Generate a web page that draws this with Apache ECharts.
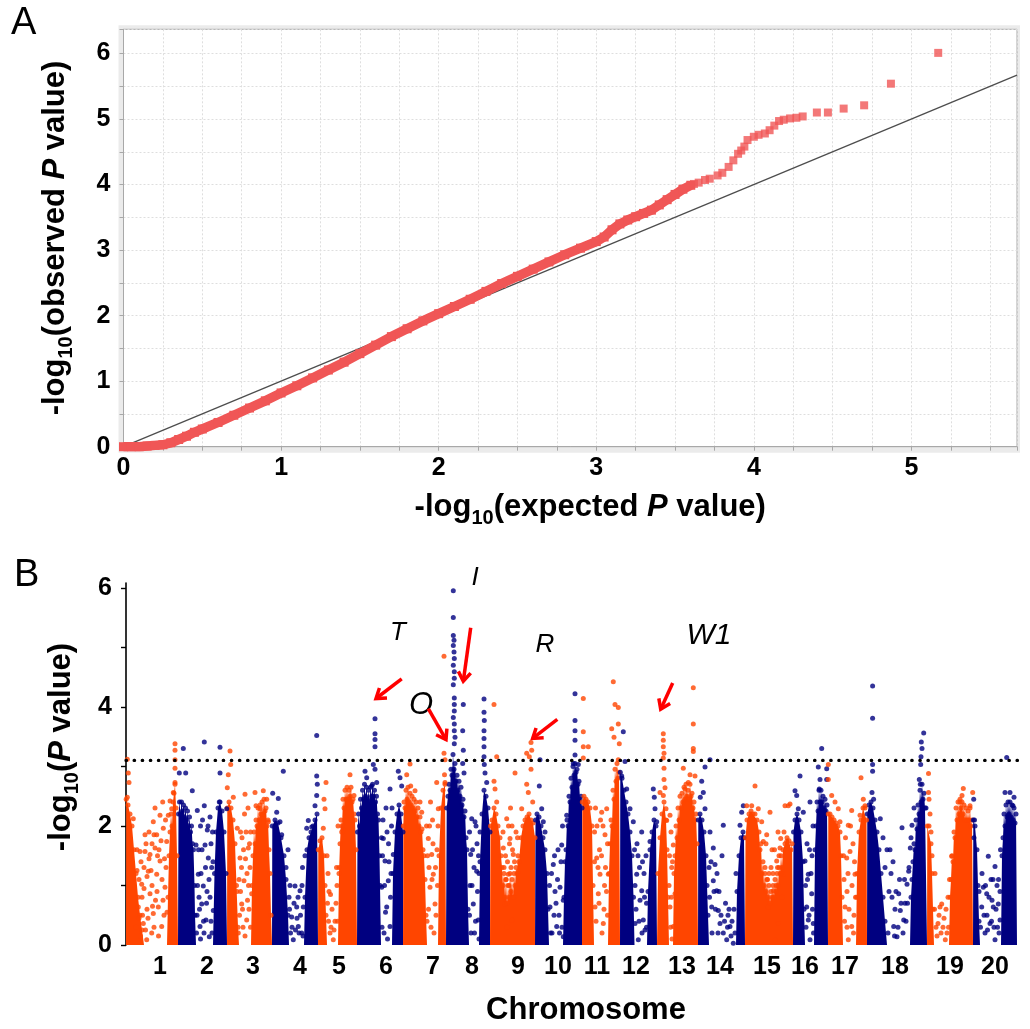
<!DOCTYPE html>
<html><head><meta charset="utf-8">
<script src="https://cdn.jsdelivr.net/npm/echarts@6/dist/echarts.min.js"></script>
<style>html,body{margin:0;padding:0;background:#fff}#c{width:1030px;height:1029px}</style>
</head><body><div id="c"></div>
<script>
// ================= Panel A : QQ plot =================
const qqBody = [[0,0],[0.05,0],[0.1,0],[0.15,0.01],[0.2,0.02],[0.25,0.03],[0.3,0.06],[0.35,0.11],[0.4,0.16],[0.45,0.22],[0.5,0.27],[0.6,0.37],[0.7,0.48],[0.8,0.59],[0.9,0.70],[1.0,0.82],[1.1,0.93],[1.2,1.05],[1.3,1.17],[1.4,1.29],[1.5,1.42],[1.6,1.55],[1.7,1.68],[1.8,1.80],[1.9,1.92],[2.0,2.03],[2.1,2.14],[2.2,2.25],[2.3,2.37],[2.4,2.49],[2.5,2.60],[2.6,2.71],[2.7,2.82],[2.8,2.93],[2.9,3.03],[3.0,3.13],[3.05,3.2],[3.1,3.31],[3.15,3.40],[3.2,3.46],[3.25,3.51],[3.3,3.56],[3.35,3.61],[3.4,3.69],[3.45,3.77],[3.5,3.85],[3.55,3.93],[3.6,3.99]];
const qqTail = [[3.62,4.01],[3.65,4.03],[3.69,4.07],[3.72,4.09],[3.77,4.14],[3.80,4.18],[3.84,4.27],[3.87,4.37],[3.90,4.47],[3.92,4.52],[3.94,4.58],[3.96,4.68],[4.00,4.73],[4.03,4.76],[4.07,4.78],[4.10,4.83],[4.13,4.90],[4.16,4.97],[4.19,4.99],[4.23,5.01],[4.27,5.02],[4.31,5.04],[4.40,5.10],[4.47,5.10],[4.57,5.16],[4.70,5.21],[4.87,5.54],[5.17,6.01]];
const qqDiagonal = [[0,0],[5.67,5.67]];
const qqXMax = 5.67, qqYMax = 6.37;

// ================= Panel B : Manhattan plot =================
const chrLengths = [52,49,45,46,39,46,43,44,45,47,38,37,41,47,48,35,39,60,46,44];
const chrLabelPos = [34,81,127,174,213,260,307,346,392,432,471,510,556,594,641,679,719,769,824,869];
const threshold = 3.1;

// dense clouds: [position within chromosome, upper edge of -log10 P]
const tower1 = [[0,0],[0.2,2.45],[2,2.35],[4,2.2],[6,2.0],[8,1.6],[10,1.2],[12,0.8],[14,0.5],[16,0.25],[18,0],[41,0],[42,0.8],[43,1.5],[44,1.9],[45,2.2],[46,2.0],[47,2.4],[48,2.55],[49,2.7],[50,2.3],[51,1.5],[52,0]];
const tower2 = [[0,0],[0.5,2.2],[1.5,2.4],[2.5,2.2],[3.5,2.4],[4.5,2.25],[5.5,2.35],[6.5,2.15],[7.5,2.3],[8.5,2.1],[9.5,2.25],[10.5,2.0],[11.5,2.15],[12.5,1.9],[13.5,2.0],[14.5,1.7],[15.5,1.6],[16.5,1.0],[17,0.5],[18,0],[35,0],[36.5,1.2],[38,1.9],[40,2.3],[42,2.4],[44,2.25],[46,1.9],[48,1.2],[49,0]];
const tower3 = [[0,0],[0.3,2.3],[2,2.4],[4,2.3],[6,2.1],[8,1.7],[9.5,1.0],[11,0.3],[12,0],[24,0],[25,1.0],[26,1.5],[27,1.9],[28,1.7],[29,2.1],[30,2.0],[31,2.3],[32,2.1],[33,2.35],[34,2.2],[35,2.4],[36,2.2],[37,2.45],[38,2.25],[39,2.3],[40,2.0],[41,2.1],[42,1.6],[43,1.2],[44,0.5],[45,0]];
const tower4 = [[0,0],[0.3,2.0],[3,2.1],[6,2.05],[9,1.8],[12,1.5],[14,1.1],[16,0.5],[17,0],[32,0],[33,0.8],[35,1.6],[37,1.8],[39,1.9],[41,2.0],[43,2.1],[45,2.2],[46,0]];
const tower5 = [[0,0],[0.3,1.6],[2,1.75],[4,1.8],[6,1.5],[7,1.0],[8,0.5],[9,0],[20,0],[21,1.2],[22,1.7],[23,2.1],[24,2.0],[25,2.45],[26,2.3],[27,2.6],[28,2.45],[29,2.65],[30,2.45],[31,2.6],[32,2.5],[33,2.65],[34,2.4],[35,2.45],[36,2.2],[37,2.1],[38,1.6],[39,0]];
const tower6 = [[0,0],[0.5,1.9],[1.5,2.2],[2.5,2.0],[3.5,2.45],[4.5,2.3],[5.5,2.6],[6.5,2.45],[7.5,2.7],[8.5,2.5],[9.5,2.65],[10.5,2.45],[11.5,2.6],[12.5,2.4],[13.5,2.65],[14.5,2.5],[15.5,2.7],[16.5,2.5],[17.5,2.6],[18.5,2.4],[19.5,2.5],[20.5,2.2],[21.5,2.1],[22.5,1.5],[23,1.0],[24,0],[35,0],[36,1.2],[38,1.9],[40,2.2],[42,2.35],[44,2.2],[46,1.9],[46,0]];
const tower7 = [[0,0],[0.3,2.0],[1,2.4],[2,2.3],[3,2.6],[4,2.45],[5,2.65],[6,2.4],[7,2.55],[8,2.35],[9,2.5],[10,2.3],[11,2.45],[12,2.25],[13,2.4],[14,2.15],[15,2.3],[16,2.0],[17,2.15],[18,1.9],[19,1.95],[20,1.6],[21,1.5],[22,1.1],[23,0.5],[24,0],[35,0],[36,1.5],[38,2.3],[40,2.6],[42,2.7],[43,0]];
const tower8 = [[0,0],[0.7,2.3],[2,2.5],[3,2.7],[4,2.6],[5,2.95],[6,2.85],[7,3.2],[8,2.95],[9,3.05],[10,2.75],[11,2.85],[12,2.6],[13,2.75],[14,2.5],[15,2.65],[16,2.35],[17,2.45],[18,2.15],[19,2.25],[20,1.8],[21,1.6],[22,0.6],[23,0],[33,0],[34,1.4],[36,2.2],[38,2.6],[40,2.5],[42,2.3],[44,1.9],[44,0]];
const tower9 = [[0,0],[0.5,2.0],[2,2.1],[4,2.3],[6,2.2],[8,2.0],[10,1.8],[11,1.5],[12,1.3],[13,1.0],[14,1.2],[15,0.8],[16,1.1],[17,0.7],[18,1.0],[19,0.8],[20,1.2],[21,0.9],[22,1.1],[23,0.8],[24,1.2],[25,1.0],[26,1.3],[27,1.2],[28,1.5],[29,1.4],[31,1.8],[33,2.0],[35,2.1],[37,2.15],[39,2.2],[41,2.1],[43,2.05],[45,1.8],[45,0]];
const tower10 = [[0,0],[0.5,2.1],[2,2.2],[4,2.15],[6,2.0],[8,1.8],[10,1.6],[12,1.2],[13,0.6],[14,0],[28,0],[29,0.8],[30,1.4],[31,1.6],[32,2.1],[33,2.0],[34,2.5],[35,2.4],[36,2.8],[37,2.65],[38,3.0],[39,2.85],[40,3.05],[41,2.9],[42,2.95],[43,2.7],[44,2.75],[45,2.45],[46,2.5],[47,2.3],[47,0]];
const tower11 = [[0,0],[0.3,2.4],[2,2.5],[4,2.45],[6,2.4],[8,2.3],[10,2.0],[11,1.0],[12,0],[26,0],[27,1.2],[28,1.7],[29,2.1],[30,2.0],[31,2.6],[32,2.45],[33,2.95],[34,2.75],[35,3.05],[36,2.8],[37,2.9],[38,0]];
const tower12 = [[0,0],[0.3,2.9],[2,2.8],[4,2.6],[6,2.4],[8,2.2],[10,1.9],[12,1.5],[13.5,0.8],[14.5,0],[27,0],[28,0.9],[30,1.6],[32,1.9],[34,2.1],[36,2.0],[37,0]];
const tower13 = [[0,0],[1,1.2],[3,1.8],[5,2.2],[7,2.4],[9,2.1],[10,1.6],[11,0.8],[12,0],[16,0],[17,1.2],[18,1.5],[19,2.0],[20,1.8],[21,2.3],[22,2.1],[23,2.5],[24,2.3],[25,2.55],[26,2.4],[27,2.65],[28,2.45],[29,2.7],[30,2.5],[31,2.6],[32,2.45],[33,2.7],[34,2.5],[35,2.55],[36,2.3],[37,2.4],[38,2.1],[39,2.2],[40,1.7],[41,0]];
const tower14 = [[0,0],[0.3,2.1],[2,2.2],[4,2.1],[6,1.9],[8,1.5],[9,1.0],[10,0.5],[11,0],[38,0],[39,0.9],[41,1.5],[43,1.8],[45,1.9],[46,1.8],[47,0]];
const tower15 = [[0,0],[0.5,1.8],[2,2.1],[4,2.2],[6,2.25],[8,2.2],[10,2.2],[12,2.1],[14,1.9],[15,1.6],[16,1.7],[17,1.2],[18,1.4],[19,1.0],[20,1.2],[21,0.9],[22,1.1],[23,0.8],[24,1.0],[25,0.7],[26,0.9],[27,0.8],[28,1.0],[29,0.8],[30,1.1],[31,0.9],[32,1.2],[33,1.0],[34,1.3],[35,1.2],[36,1.5],[37,1.3],[38,1.6],[40,1.7],[42,1.8],[44,1.75],[46,1.6],[47,1.7],[48,0]];
const tower16 = [[0,0],[0.5,1.9],[2,2.1],[4,2.2],[6,2.1],[8,1.9],[10,1.4],[11,0.6],[12,0],[21,0],[22,1.6],[23,2.0],[24,2.4],[25,2.25],[26,2.6],[27,2.4],[28,2.6],[29,2.4],[30,2.5],[31,2.3],[32,2.45],[33,2.25],[34,2.35],[35,0]];
const tower17 = [[0,0],[0.3,2.2],[2,2.2],[4,2.15],[6,2.1],[8,2.05],[10,2.0],[12,1.9],[13,1.5],[14,0.8],[15,0],[28,0],[29,1.2],[31,1.9],[33,2.1],[35,2.3],[37,2.3],[38.5,2.1],[39,0]];
const tower18 = [[0,0],[0.3,2.2],[2,2.35],[4,2.4],[6,2.3],[8,2.1],[10,1.9],[12,1.6],[14,1.2],[16,0.8],[18,0.4],[20,0],[43,0],[44,0.8],[45,1.1],[46,1.4],[47,1.7],[48,1.6],[49,2.1],[50,1.95],[51,2.35],[52,2.2],[53,2.6],[54,2.4],[55,2.7],[56,2.45],[57,2.55],[58,2.3],[59,2.3],[60,0]];
const tower19 = [[0,0],[0.3,2.0],[2,2.0],[4,1.7],[5,1.2],[6,0.6],[7,0],[22,0],[23,0.8],[24,1.1],[25,1.5],[26,1.4],[27,1.9],[28,1.8],[29,2.3],[30,2.1],[31,2.4],[32,2.2],[33,2.45],[34,2.3],[35,2.4],[36,2.2],[37,2.35],[38,2.1],[39,2.3],[40,2.1],[41,2.25],[42,2.1],[43,2.3],[44,2.0],[45,2.1],[46,0]];
const tower20 = [[0,0],[0.3,2.1],[2,2.0],[4,1.6],[5,1.0],[6,0.4],[7,0],[28,0],[29,1.5],[30,1.8],[31,2.2],[32,2.0],[33,2.35],[34,2.15],[35,2.4],[36,2.2],[37,2.4],[38,2.15],[39,2.35],[40,2.1],[41,2.3],[42,2.05],[43,2.2],[44,0]];

// individual SNPs: [position within chromosome, -log10 P]
const dots1 = [[1.3,3.12],[2.3,2.89],[3,2.73],[1.3,2.48],[7.3,2.12],[19,1.85],[14,1.57],[19,1.57],[27.3,2.07],[34,2.18],[36.7,2.4],[44,2.42],[49,3.38],[49,3.27],[49,3.11],[49,2.97],[49,2.73],[47.3,2.56],[45.7,2.29],[12.3,0.64],[17.3,0.36],[22.3,1.24],[24,0.86],[25.7,0.2],[29,1.63],[30.7,1.19],[32.3,0.64],[34,1.41],[37.3,1.96],[39,0.97],[40.7,1.74],[42.3,2.18],[20.7,0.09],[15.7,1.02],[27.3,0.53],[30.7,1.85],[35.7,0.31],[24,1.52],[13,1.1],[16,0.8],[18,1.3],[21,0.6],[23,1.9],[26,1.0],[28,0.3],[31,0.9],[33,1.6],[36,1.1],[38,0.5],[40,1.3],[10,0.3],[11,1.6],[29,2.3],[26,1.7],[21,1.15],[14.5,0.15],[15,1.4],[16.5,0.5],[18,0.95],[19.5,0.25],[20,1.7],[22,0.45],[23,1.45],[25,1.25],[26.5,0.65],[28,1.85],[29.5,0.75],[31.5,1.5],[32.5,0.15],[35,1.75],[37,0.75],[38.5,1.45],[39.5,2.1],[41,0.55],[11,1.25],[13,0.45]];
const dots2 = [[5.3,3.30],[1.3,2.89],[7.7,2.89],[14.3,2.59],[19.3,2.26],[26.3,3.41],[26.3,2.34],[32,2.15],[29.3,1.93],[27,1.68],[30.3,1.46],[25.3,0.99],[33.7,1.30],[23.7,0.69],[28,0.42],[35.3,0.58],[31.3,0.14],[22,0.31],[42,3.32],[42,2.89],[41.3,2.40],[48.7,2.29],[18,1.68],[20.3,1.19],[24,1.6],[21,0.8],[26,0.2],[29,0.9],[33,0.4],[19,0.5],[22.5,2.0],[34.5,1.9],[31,1.1],[18.5,0.2],[19.5,1.0],[20.5,1.6],[21.5,0.6],[23,1.2],[24.5,2.1],[25.5,0.4],[27.5,1.3],[28.5,0.7],[30,2.0],[32,0.8],[33,1.7],[34,0.2],[35,1.4],[22.5,0.1]];
const dots3 = [[3,3.26],[3.7,3.03],[1.3,2.86],[0.3,2.64],[6.3,2.48],[10.3,1.96],[18,2.53],[19,1.90],[21.3,1.63],[13,1.46],[17,1.08],[23,1.30],[14.7,0.69],[19.7,0.42],[24.7,0.86],[11.3,0.2],[28,2.56],[36.3,2.59],[33,2.29],[39.7,2.45],[41.3,2.07],[29,2.34],[12,1.1],[15,1.8],[16,0.3],[20,1.2],[22,0.6],[13.5,0.9],[17.5,2.2],[21,2.3],[10,0.9],[23.5,1.9],[12.5,0.5],[13.5,1.9],[14.5,1.3],[15.5,0.6],[16.5,1.6],[18,0.15],[18.5,1.45],[20.5,0.75],[21.5,1.0],[22.5,1.7],[23.5,0.3]];
const dots4 = [[0.7,2.55],[6.3,2.46],[4.7,2.23],[11.3,2.92],[8,2.07],[9.7,1.85],[23,0.99],[28,0.91],[24.7,0.64],[19.7,0.47],[29.7,0.2],[21.3,0.09],[26.3,0.31],[31.3,0.64],[44.7,3.52],[44.7,2.84],[45.3,2.70],[44.7,2.51],[43,2.34],[36.3,2.09],[39.7,1.98],[34.7,1.96],[14,1.3],[17,0.8],[18.5,0.2],[16,1.6],[30.5,1.3],[33,1.5],[27,0.2],[17.5,0.6],[18,1.0],[20,0.3],[22,0.7],[23.5,0.25],[25,0.45],[26,0.8],[28.5,0.5],[30,1.0],[31,0.15]];
const dots5 = [[8,2.73],[6,2.45],[7,2.29],[5.3,1.96],[12,0.2],[15.3,0.09],[23.7,1.9],[32,2.86],[36,2.51],[25,1.93],[10,1.2],[14,0.6],[17,0.4],[19,1.0],[11,0.9],[9,1.5],[13,0.3],[18,0.7],[21,1.3],[20,2.0],[9.5,0.7],[10.5,0.4],[12.5,0.85],[16,0.25],[18.5,1.3],[19.5,0.4]];
const dots6 = [[18,3.80],[18,3.55],[18,3.45],[18,3.33],[16.3,3.03],[18,2.95],[8,2.92],[9.7,2.81],[14.7,2.67],[19.7,2.73],[26.3,1.79],[28,1.41],[24.7,0.97],[29.7,0.64],[33,0.31],[31.3,1.08],[33,2.62],[36.3,1.52],[41.3,2.92],[43,2.81],[44.7,2.67],[27,0.2],[30,1.9],[25.5,1.5],[32,1.4],[34.5,2.0],[29,2.3],[24.5,1.8],[25,0.3],[26,2.1],[27.5,1.0],[28.5,0.55],[30.5,0.1],[31.5,1.7],[33.5,0.8],[34,1.2],[35,2.3]];
const dots7 = [[7,3.04],[3.7,2.86],[7.7,2.67],[12,2.59],[17,2.40],[18.7,2.23],[25.3,1.79],[28.7,1.52],[27,0.97],[32,0.69],[30.3,1.19],[33.7,2.73],[35.3,2.29],[41,3.22],[42,3.11],[41.5,2.86],[42,2.73],[41,4.85],[24,0.4],[26,1.3],[29.5,2.1],[31,0.2],[34,1.6],[27.5,2.4],[23.5,2.0],[24.5,1.5],[25.5,0.6],[26.5,2.0],[28,0.3],[29,1.1],[30,1.7],[32.5,1.3],[33,0.5],[34.5,1.0],[35,2.0]];
const dots8 = [[7.3,5.95],[7.3,5.50],[7.3,5.20],[8,5.12],[7.3,5.03],[8,4.92],[8.3,4.81],[7.3,4.70],[8.3,4.59],[8.3,4.48],[7.3,4.37],[8.3,4.15],[8.3,4.04],[8.3,3.93],[7.3,3.82],[8.3,3.71],[8.3,3.60],[9,3.49],[8.3,3.38],[17.3,4.04],[16.7,3.60],[17.3,3.27],[16.7,3.05],[18,2.89],[25.7,2.12],[29,2.07],[30.7,1.24],[27.3,0.69],[32.3,0.42],[24.7,1.52],[34,1.90],[38,4.13],[38,3.91],[38.3,3.77],[38,3.60],[38,3.47],[38,3.33],[38,3.16],[38.3,3.03],[39,2.89],[40.7,2.73],[26,1.0],[28.5,0.2],[31,1.7],[23.5,0.5],[33,1.2],[23.5,1.9],[24,1.0],[25,0.2],[26.5,1.6],[28,1.3],[29.5,0.4],[30,2.0],[31.5,0.9],[32.5,1.5],[33,0.1]];
const dots9 = [[4,4.04],[6.7,3.16],[4,2.75],[5,2.62],[6.7,2.40],[16.7,2.12],[20,1.79],[13.3,1.63],[25,2.89],[23.3,1.52],[18.3,1.19],[15,0.69],[21.7,0.42],[26.7,0.97],[28.3,1.24],[41,3.40],[41.7,3.27],[36.7,3.22],[39.3,3.16],[41,2.95],[36.7,2.70],[38.3,2.56],[42.7,2.40],[31.7,2.29],[17,0.3],[19,1.0],[22,2.0],[24,0.8],[14,1.3],[27.5,1.8],[20.5,2.3],[13,1.9],[15.5,1.5],[17.5,1.4],[19.5,1.7],[21,1.3],[22.5,1.6],[24.5,1.4],[26,1.9],[18.5,2.0],[16,1.1]];
const dots10 = [[5,3.11],[4.3,2.67],[6.7,2.29],[8.3,2.07],[10,1.90],[40,4.22],[40,3.77],[40,3.60],[40,3.44],[40,3.19],[38.3,3.05],[43.3,3.03],[26.7,1.68],[31.7,2.18],[28.3,0.75],[18.3,1.35],[25,0.97],[21.7,0.31],[15,0.64],[28.3,0.14],[20,0.9],[23,1.6],[17,0.2],[24,0.5],[14.5,1.0],[15.5,0.2],[16.5,1.2],[19,0.5],[19.5,1.5],[21,0.7],[22.5,1.1],[24.5,0.2],[26,1.4],[27,0.3],[27.5,2.0]];
const dots11 = [[1.3,4.14],[1.3,3.58],[1.3,3.33],[6.3,3.33],[1.3,3.14],[19.7,2.23],[24.7,2.29],[14.7,1.46],[23,1.85],[18,1.19],[13,0.64],[21.3,0.36],[16.3,0.86],[26.3,1.19],[31.3,4.42],[33,4.04],[36.3,3.99],[29.7,3.63],[32,3.49],[36.3,3.71],[37.3,3.38],[36.3,3.11],[15,2.0],[20,0.2],[17.5,1.6],[22.5,1.0],[12.5,1.9],[25.5,0.5],[12.5,1.4],[13.5,2.3],[14,0.4],[16,1.3],[17,0.7],[18.5,2.1],[19.5,1.5],[21,2.0],[22,0.6],[23.5,1.3],[24.5,0.9],[25.5,1.7]];
const dots12 = [[3.3,3.58],[5,3.08],[1.7,2.84],[6.7,2.62],[10,2.29],[13.3,2.07],[21.7,1.90],[16.7,1.19],[20,0.75],[15,0.36],[23.3,0.42],[18.3,0.09],[25,0.25],[21.7,0.91],[33.3,2.62],[34.3,2.48],[35,2.29],[36.7,2.07],[30,1.74],[18,1.5],[24,1.2],[26.5,0.7],[14.5,1.6],[15,1.0],[16,0.6],[17,1.7],[19,0.4],[19.5,1.3],[22,0.2],[22.5,1.4],[24.5,0.8],[26,1.5],[26.5,0.3]];
const dots13 = [[6.3,3.55],[6.3,3.44],[6.3,3.33],[7,3.22],[6.3,3.14],[7,2.97],[7,2.78],[8,2.64],[6.3,2.51],[3,2.56],[9,2.29],[9.7,2.09],[13,2.18],[16.3,1.68],[14.7,1.30],[18,0.86],[13,0.64],[16.3,0.31],[36.3,4.32],[36.3,3.71],[36.3,3.30],[36.3,3.25],[26.3,2.97],[33,2.86],[31.3,2.73],[28,2.62],[38,2.84],[12,1.0],[15,0.1],[14,1.9],[12.5,1.5],[13.5,0.3],[14.5,0.8],[15.5,1.4]];
const dots14 = [[7,2.99],[3.7,2.75],[5.3,2.56],[12,3.11],[2.3,2.48],[7,2.29],[15.3,1.63],[25.3,2.01],[17,1.35],[18.7,0.91],[13.7,0.64],[22,0.36],[25.3,0.20],[28.7,0.09],[35.3,0.03],[20.3,0.58],[15.3,1.08],[32,0.31],[45.3,2.34],[43.7,2.23],[42,2.01],[12,1.9],[11,1.3],[36,0.6],[38,1.2],[30,0.5],[11.5,0.8],[13,1.4],[14,0.2],[16,0.9],[17.5,0.6],[19,1.2],[20,0.2],[21,0.9],[23,0.5],[24,1.5],[26.5,0.4],[27.5,0.7],[29.5,0.3],[31,0.6],[33,0.15],[34,0.4],[37,0.2]];
const dots15 = [[10,2.67],[6.7,2.34],[1.7,2.34],[13.3,2.29],[16.7,2.07],[18.3,1.74],[25,2.23],[21.7,1.85],[31.7,1.41],[28.3,0.91],[35,1.63],[41.7,1.74],[38.3,1.19],[23.3,0.64],[33.3,0.36],[30,0.09],[43.3,2.34],[40,2.34],[45,2.37],[35.7,1.79],[27,1.6],[20,1.3],[33,1.9],[37,0.8],[24,1.2],[21,1.7],[22.5,1.1],[26,1.3],[28,1.2],[29.5,1.6],[31,1.0],[32.5,1.3],[34,1.5],[36,1.2],[39,1.9]];
const dots16 = [[7,2.84],[2,2.59],[3.7,2.51],[10.3,2.23],[5.3,2.29],[12,1.41],[17,2.40],[15.3,1.19],[18.7,0.86],[13.7,0.64],[20.3,0.36],[17,0.09],[15.3,0.42],[28.7,3.30],[25.3,2.99],[33.7,2.96],[33.7,2.78],[27,2.78],[26.3,2.62],[19,1.5],[14,1.7],[12.5,1.0],[13,0.3],[14.5,1.1],[16,0.5],[16.5,1.6],[18,1.2],[19.5,0.6],[20,2.0],[20.5,0.2]];
const dots17 = [[0.3,3.03],[0.3,2.78],[3.7,2.51],[7,2.40],[10.3,2.29],[12,2.07],[23.7,2.26],[20.3,2.01],[22,1.57],[18.7,1.46],[27,1.19],[17,0.64],[23.7,0.31],[20.3,0.09],[28.7,0.80],[33,2.81],[35.3,2.45],[37,2.34],[32,2.18],[25,1.7],[16,1.1],[26,0.5],[19,0.9],[15.5,1.5],[16.5,0.4],[17.5,1.8],[19,0.3],[20,1.2],[21,0.6],[22.5,2.0],[24,1.0],[25.5,0.2],[26.5,1.4],[27.5,0.8]];
const dots18 = [[5.6,4.35],[5.6,3.81],[5.6,3.03],[5.6,2.92],[5,2.56],[6.6,2.45],[13.3,2.12],[35,1.97],[26.7,0.31],[31.7,0.86],[33.3,0.58],[40,1.02],[41.7,1.24],[43.3,1.63],[45,2.01],[30,0.14],[36.7,0.42],[56.7,3.56],[54.3,3.41],[55,3.30],[54,3.16],[53.7,3.03],[52.3,2.78],[53.3,2.70],[20,1.6],[22,0.9],[24,1.2],[18,1.3],[38,0.7],[28,0.6],[47,2.3],[16,1.8],[21,0.2],[23,1.6],[25,0.8],[26,1.4],[27.5,0.15],[29,0.9],[31,0.3],[32.5,1.1],[34,0.7],[36,0.2],[37.5,1.1],[39,0.4],[40.5,0.7],[42,1.3],[44,1.8]];
const dots19 = [[1.5,2.88],[1.5,2.56],[2,2.45],[3,2.2],[4,1.9],[5,1.5],[14.7,0.69],[18.3,0.09],[11,0.36],[20,0.2],[13,0.64],[36.3,2.63],[35,2.51],[45.7,2.56],[43,2.34],[24.7,1.49],[33,2.4],[9,0.3],[17,0.45],[22.5,1.1],[7.5,0.6],[8,1.2],[10,0.15],[12,0.5],[14,0.2],[16,0.3],[19,0.6],[21,0.8],[21.5,0.3]];
const dots20 = [[0.7,2.45],[1.5,2.1],[1,1.8],[15.3,1.49],[22,1.32],[10.3,0.97],[13.7,0.86],[20.3,0.64],[25.3,0.69],[17,0.36],[12,0.2],[22,0.09],[27,0.42],[8.7,0.64],[33.7,3.15],[32,2.56],[37,2.56],[41,2.48],[40,2.34],[35.3,2.18],[18,1.1],[24,1.0],[26,0.2],[14,0.5],[6,0.9],[19,0.75],[7.5,0.3],[9,1.2],[11,0.5],[12.5,1.0],[14.5,0.25],[16,0.8],[18.5,0.4],[20,1.1],[21,0.3],[23,0.6],[24.5,0.3],[25.5,1.1],[27,0.9],[27.5,1.6]];

// annotations (data coordinates of panel B)
const annoLabels = [['T',272,5.24,26],['O',295,4.02,31],['I',349,6.16,26],['R',419,5.04,26],['W1',583,5.19,30]];
const annoArrows = [[275.7,4.47,250,4.14],[302.3,3.97,320,3.45],[344.7,5.33,337.3,4.43],[431.3,3.79,406.7,3.47],[546.7,4.40,534.7,3.96]];

// ---------------------------------------------------------
const F = "'Liberation Sans', Arial, sans-serif";
const ORANGE = '#ff4500', NAVY = '#000080', QQRED = '#f05656';
const towers = [tower1,tower2,tower3,tower4,tower5,tower6,tower7,tower8,tower9,tower10,tower11,tower12,tower13,tower14,tower15,tower16,tower17,tower18,tower19,tower20];
const dotSets = [dots1,dots2,dots3,dots4,dots5,dots6,dots7,dots8,dots9,dots10,dots11,dots12,dots13,dots14,dots15,dots16,dots17,dots18,dots19,dots20];
const chrStart = []; let acc = 0; chrLengths.forEach(l => { chrStart.push(acc); acc += l; });
const bXMax = 894;

const nameRich = {
  a: {fontFamily:F, fontSize:31, fontWeight:'bold', color:'#000', lineHeight:36, verticalAlign:'middle'},
  p: {fontFamily:F, fontSize:31, fontWeight:'bold', fontStyle:'italic', color:'#000', lineHeight:36, verticalAlign:'middle'},
  s: {fontFamily:F, fontSize:20, fontWeight:'bold', color:'#000', lineHeight:20, verticalAlign:'bottom', padding:[0,0,-3,0]}
};
const tickFont = {fontFamily:F, fontSize:25, fontWeight:'bold', color:'#000'};

const series = [];
series.push({type:'line', xAxisIndex:0, yAxisIndex:0, data:qqDiagonal, symbol:'none', lineStyle:{color:'#4d4d4d', width:1.3}, z:2, silent:true});
series.push({type:'line', xAxisIndex:0, yAxisIndex:0, data:qqBody, symbol:'rect', symbolSize:9, showSymbol:true, showAllSymbol:true, lineStyle:{color:QQRED, width:9.5}, itemStyle:{color:QQRED}, z:3});
series.push({type:'scatter', xAxisIndex:0, yAxisIndex:0, data:qqTail, symbol:'rect', symbolSize:8, itemStyle:{color:QQRED}, z:3});

towers.forEach((t, i) => {
  const col = i % 2 ? NAVY : ORANGE;
  const pts = t.map(p => [chrStart[i] + p[0], p[1]]);
  series.push({type:'line', xAxisIndex:1, yAxisIndex:1, data:pts, symbol:'none',
    lineStyle:{width:0, opacity:0}, areaStyle:{color:col, opacity:1}, z:2, silent:true});
  // the dense cloud's upper rim is itself made of SNP dots
  series.push({type:'scatter', xAxisIndex:1, yAxisIndex:1, data:pts.filter(p => p[1] > 0), symbolSize:5,
    itemStyle:{color:col}, z:3, silent:true});
});
dotSets.forEach((d, i) => {
  series.push({type:'scatter', xAxisIndex:1, yAxisIndex:1, data:d.map(p => [chrStart[i] + p[0], p[1]]), symbolSize:5,
    itemStyle:{color:i % 2 ? NAVY : ORANGE}, z:3});
});
series.push({type:'line', xAxisIndex:1, yAxisIndex:1, data:[[0,threshold],[bXMax,threshold]], symbol:'none',
  lineStyle:{color:'#000', width:3.2, type:[0.5,7.6], cap:'round'}, z:4, silent:true});

const chart = echarts.init(document.getElementById('c'), null, {renderer:'canvas'});
chart.setOption({
  animation:false,
  backgroundColor:'#fff',
  title:[
    {text:'A', left:11, top:5, padding:0, textStyle:{fontFamily:F, fontSize:38, fontWeight:'normal', color:'#000'}},
    {text:'B', left:14, top:557, padding:0, textStyle:{fontFamily:F, fontSize:38, fontWeight:'normal', color:'#000'}}
  ],
  grid:[
    {left:123.5, top:29.3, width:893.5, height:417.4, show:true, backgroundColor:'#fff', borderColor:'#a8a8a8', borderWidth:1, containLabel:false},
    {left:126, top:583, width:894, height:369, containLabel:false}
  ],
  xAxis:[
    {gridIndex:0, type:'value', min:0, max:qqXMax, interval:0.25,
     axisLine:{show:true, lineStyle:{color:'#a8a8a8'}}, axisTick:{show:true, length:4, lineStyle:{color:'#a8a8a8'}},
     splitLine:{show:true, lineStyle:{color:'#dedede', type:[2,2]}},
     axisLabel:{...tickFont, margin:9, formatter:v => (Math.abs(v - Math.round(v)) < 1e-9 ? String(Math.round(v)) : '')},
     name:'{a|-log}{s|10}{a|(expected }{p|P}{a| value)}', nameLocation:'middle', nameGap:43,
     nameTextStyle:{rich:nameRich, padding:[0,0,0,40]}},
    {gridIndex:1, type:'value', min:0, max:bXMax,
     axisLine:{show:false}, axisTick:{show:false}, splitLine:{show:false},
     axisLabel:{...tickFont, margin:10, customValues:chrLabelPos, formatter:v => String(chrLabelPos.indexOf(v) + 1)},
     name:'Chromosome', nameLocation:'middle', nameGap:47,
     nameTextStyle:{fontFamily:F, fontSize:31, fontWeight:'bold', color:'#000', lineHeight:36, padding:[0,0,0,26]}}
  ],
  yAxis:[
    {gridIndex:0, type:'value', min:0, max:qqYMax, interval:0.5,
     axisLine:{show:true, lineStyle:{color:'#a8a8a8'}}, axisTick:{show:true, length:4, lineStyle:{color:'#a8a8a8'}},
     splitLine:{show:true, lineStyle:{color:'#dedede', type:[2,2]}},
     axisLabel:{...tickFont, margin:13, formatter:v => (Math.abs(v - Math.round(v)) < 1e-9 ? String(Math.round(v)) : '')},
     name:'{a|-log}{s|10}{a|(observed }{p|P}{a| value)}', nameLocation:'middle', nameGap:50,
     nameTextStyle:{rich:nameRich}},
    {gridIndex:1, type:'value', min:0, max:6.08,
     axisLine:{show:true, lineStyle:{color:'#000', width:1.6}},
     axisTick:{show:true, length:5, customValues:[0,1,2,3,4,5,6], lineStyle:{color:'#000', width:1.4}},
     splitLine:{show:false},
     axisLabel:{...tickFont, margin:14, customValues:[0,2,4,6]},
     name:'{a|-log}{s|10}{a|(}{p|P}{a| value)}', nameLocation:'middle', nameGap:47,
     nameTextStyle:{rich:nameRich, padding:[0,0,0,34]}}
  ],
  series
});

// annotations and panel-A frame positioned through the chart's own coordinate conversion
const g = [];
const a0 = chart.convertToPixel({gridIndex:0}, [0, qqYMax]);
const a1 = chart.convertToPixel({gridIndex:0}, [qqXMax, 0]);
g.push({type:'rect', id:'frame', z:-1, silent:true, shape:{x:a0[0]-5, y:a0[1]-4, width:a1[0]-a0[0]+8, height:a1[1]-a0[1]+10}, style:{fill:'#ebebeb'}});
annoLabels.forEach((l, i) => {
  const p = chart.convertToPixel({gridIndex:1}, [l[1], l[2]]);
  g.push({type:'text', id:'t'+i, z:10, x:p[0], y:p[1], style:{text:l[0], fontFamily:F, fontSize:l[3], fontStyle:'italic', fill:'#000', align:'center', verticalAlign:'middle'}});
});
annoArrows.forEach((a, i) => {
  const s = chart.convertToPixel({gridIndex:1}, [a[0], a[1]]);
  const e = chart.convertToPixel({gridIndex:1}, [a[2], a[3]]);
  const ang = Math.atan2(s[1]-e[1], s[0]-e[0]);
  const L = 11, w = 0.6;
  const h1 = [e[0] + L*Math.cos(ang + w), e[1] + L*Math.sin(ang + w)];
  const h2 = [e[0] + L*Math.cos(ang - w), e[1] + L*Math.sin(ang - w)];
  g.push({type:'line', id:'al'+i, z:10, shape:{x1:s[0], y1:s[1], x2:e[0], y2:e[1]}, style:{stroke:'#ff0000', lineWidth:3.5}});
  g.push({type:'polyline', id:'ah'+i, z:10, shape:{points:[h1, e, h2]}, style:{stroke:'#ff0000', lineWidth:3.5, fill:null, lineJoin:'miter'}});
});
chart.setOption({graphic:g});
</script>
</body></html>
